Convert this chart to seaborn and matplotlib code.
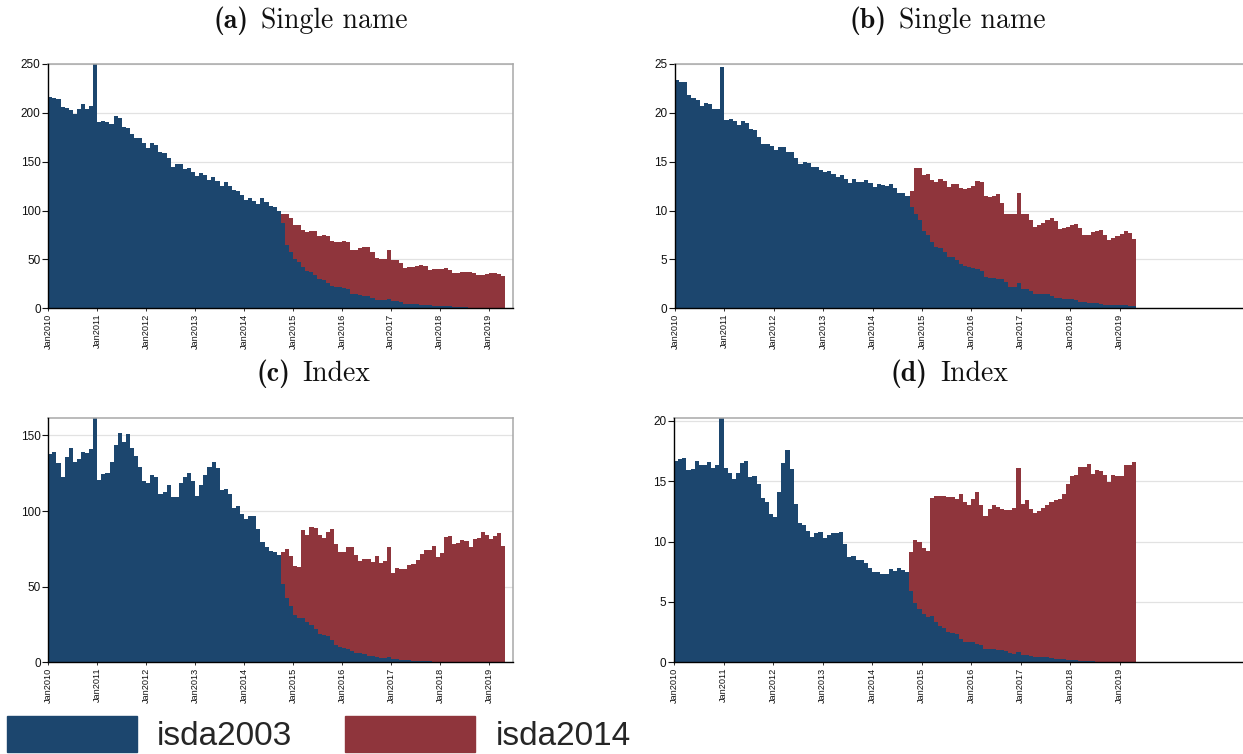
import numpy as np
import pandas as pd
import matplotlib
matplotlib.use("Agg")
import matplotlib.pyplot as plt
from matplotlib.patches import Patch
import seaborn as sns

# ---------------- data (monthly, Jan2010 .. Apr2019) ----------------
start_year = 2010
n_months = 112
tick_years = list(range(2010, 2020))
tick_labels = [f"Jan{y}" for y in tick_years]
series_names = ["isda2003", "isda2014"]
panel_letters = ["(a)", "(b)", "(c)", "(d)"]
panel_names = ["Single name", "Single name", "Index", "Index"]

# (a) Single name
a_isda2003 = [216, 215, 214, 206, 205, 203, 199, 204, 209, 204, 207, 252,
              191, 192, 191, 189, 197, 195, 186, 185, 178, 174, 174, 169,
              164, 169, 167, 160, 159, 154, 145, 148, 148, 143, 144, 139,
              135, 138, 136, 131, 134, 130, 125, 129, 125, 121, 120, 116,
              111, 113, 110, 107, 113, 109, 105, 104, 100, 87, 65, 58,
              50, 47, 42, 38, 37, 34, 30, 29, 26, 23, 22, 21.5,
              21, 19.5, 15, 15, 14, 13, 12.5, 11, 8.5, 8, 8, 9.5,
              7.5, 7, 6, 4.5, 4.5, 4, 4, 3.5, 3.5, 3, 2.5, 2.5,
              2.3, 2.2, 2, 1.5, 1.2, 1, 1, 0.8, 0.7, 0.6, 0.5, 0.5,
              0.4, 0.4, 0.3, 0.3]
a_isda2014 = [0] * 57 + [
    9, 31, 34, 35, 38, 38, 40, 42, 45, 44, 46, 48, 46, 46, 46.5, 48, 48.5,
    45, 45, 48, 50, 50.5, 47, 42.5, 42, 42, 50.5, 41.5, 42, 40, 36.5, 37.5,
    38, 39, 40.5, 39.5, 36, 37.5, 37.5, 37.7, 38.8, 37, 34.5, 34.8, 36, 36,
    36.2, 35.3, 33.4, 33.5, 34.5, 35.6, 35.6, 34.7, 32.7]

# (b) Single name
b_isda2003 = [23.4, 23.2, 23.2, 21.8, 21.5, 21.3, 20.7, 21.0, 20.9, 20.4, 20.4, 24.7,
              19.3, 19.4, 19.2, 18.8, 19.2, 19.0, 18.3, 18.2, 17.5, 16.8, 16.8, 16.6,
              16.2, 16.5, 16.5, 16.0, 16.0, 15.4, 14.8, 15.0, 14.9, 14.5, 14.5, 14.2,
              13.9, 14.1, 13.7, 13.4, 13.6, 13.2, 12.8, 13.2, 12.9, 12.9, 13.1, 12.8,
              12.4, 12.7, 12.65, 12.5, 12.7, 12.3, 11.8, 11.8, 11.5, 10.4, 9.7, 9.0,
              7.9, 7.5, 6.8, 6.3, 6.2, 5.8, 5.25, 5.2, 4.9, 4.5, 4.3, 4.2,
              4.1, 4.0, 3.8, 3.2, 3.1, 3.1, 3.0, 3.0, 2.7, 2.2, 2.2, 2.6,
              2.0, 2.0, 1.75, 1.5, 1.5, 1.5, 1.5, 1.3, 1.1, 1.05, 1.0, 1.0,
              1.0, 0.8, 0.6, 0.6, 0.55, 0.55, 0.5, 0.4, 0.35, 0.35, 0.35, 0.35,
              0.35, 0.3, 0.25, 0.2]
b_isda2014 = [0] * 57 + [
    1.6, 4.7, 5.4, 5.7, 6.2, 6.3, 6.6, 7.0, 7.2, 7.15, 7.5, 7.8, 7.8, 7.9,
    8.1, 8.4, 9.0, 9.1, 8.3, 8.3, 8.4, 8.7, 7.8, 7.0, 7.4, 7.4, 9.2, 7.6,
    7.6, 7.25, 6.8, 7.0, 7.2, 7.5, 7.9, 7.8, 7.05, 7.2, 7.3, 7.5, 7.8, 7.6,
    6.9, 6.95, 7.25, 7.4, 7.6, 7.15, 6.65, 6.85, 7.05, 7.25, 7.6, 7.45, 6.9]

# (c) Index
c_isda2003 = [137.4, 138.8, 131.5, 122.7, 135.5, 141.4, 132.6, 134.1, 138.8, 138.6, 140.7, 165,
              120.5, 124.4, 125.3, 132.4, 143.6, 151.3, 145.4, 151.1, 141.4, 136.3, 128.9, 119.8,
              118.7, 123.6, 122.2, 111, 112.6, 117, 109.3, 109.3, 118.7, 122.2, 124.9, 119.6,
              109.9, 117.4, 123.6, 128.9, 132.4, 128.4, 113.9, 114.3, 111.2, 101.8, 103.3, 98.2,
              94.5, 96.9, 96.9, 88.1, 79.3, 76.2, 73.8, 72.9, 70.9, 51.8, 42.5, 37,
              31.3, 29.3, 29.3, 26.4, 24.7, 22.2, 18.7, 18.1, 17.4, 14.8, 11.2, 10.1,
              9.5, 9, 7.7, 6.2, 5.9, 5.5, 4.4, 4.2, 3.5, 3.1, 3.1, 3.3,
              2.4, 2.2, 1.8, 1.3, 1.3, 1.1, 1.1, 0.9, 0.7, 0.7, 0.5, 0.4,
              0.4, 0.4, 0.3, 0.3, 0.3, 0.2, 0.2, 0.2, 0.2, 0.1, 0.1, 0.1,
              0.1, 0.1, 0.1, 0.1]
c_isda2014 = [0] * 57 + [
    20.9, 32.4, 33, 32.4, 33.9, 58.1, 58, 64.7, 66.8, 65.4, 64.1, 68.9, 73.3,
    66.8, 63, 63.6, 67.4, 68.5, 64.5, 60.8, 63, 64.1, 62.1, 66.8, 62.8, 63.6,
    72.9, 56.9, 60.4, 59.7, 60.2, 63, 64.1, 66.5, 70.5, 73.3, 73.3, 76.4, 69,
    71.8, 82.2, 83, 77.9, 78.8, 80.4, 79.8, 76.2, 81.5, 81.8, 86, 83.8, 81.6,
    83.4, 85.4, 76.8]

# (d) Index
d_isda2003 = [16.7, 16.8, 16.9, 15.9, 16.0, 16.7, 16.3, 16.3, 16.6, 16.1, 16.3, 20.6,
              16.05, 15.7, 15.2, 15.7, 16.5, 16.7, 15.3, 15.4, 14.8, 13.6, 13.3, 12.3,
              12.0, 14.1, 16.5, 17.6, 16.0, 13.1, 11.5, 11.4, 10.9, 10.4, 10.7, 10.8,
              10.3, 10.5, 10.7, 10.7, 10.75, 9.8, 8.7, 8.8, 8.5, 8.5, 8.2, 7.8,
              7.5, 7.5, 7.3, 7.3, 7.7, 7.55, 7.8, 7.6, 7.5, 5.9, 4.9, 4.4,
              4.0, 3.75, 3.8, 3.3, 3.0, 2.85, 2.5, 2.4, 2.35, 1.95, 1.7, 1.7,
              1.65, 1.55, 1.4, 1.1, 1.1, 1.1, 1.05, 1.0, 0.95, 0.8, 0.7, 0.85,
              0.6, 0.6, 0.55, 0.4, 0.4, 0.4, 0.4, 0.35, 0.3, 0.3, 0.25, 0.2,
              0.2, 0.15, 0.12, 0.12, 0.1, 0.08, 0.06, 0.05, 0.05, 0.04, 0.04, 0.03,
              0.03, 0.03, 0.02, 0.02]
d_isda2014 = [0] * 57 + [
    3.2, 5.2, 5.6, 5.5, 5.45, 9.8, 10.45, 10.75, 10.9, 11.2, 11.3, 11.15, 11.95,
    11.6, 11.3, 11.9, 12.55, 11.6, 11.0, 11.6, 11.9, 11.8, 11.7, 11.65, 11.8,
    12.05, 15.25, 12.5, 12.85, 12.15, 12.0, 12.1, 12.4, 12.6, 12.95, 13.1, 13.2,
    13.65, 14.6, 15.2, 15.35, 16.08, 16.08, 16.3, 15.52, 15.84, 15.8, 15.45,
    14.86, 15.46, 15.42, 15.37, 16.32, 16.28, 16.53]

panels_2003 = [a_isda2003, b_isda2003, c_isda2003, d_isda2003]
panels_2014 = [a_isda2014, b_isda2014, c_isda2014, d_isda2014]
y_max = [250, 25, 161.3, 20.2]
y_step = [50, 5, 50, 5]

# ---------------- style ----------------
sns.set_theme(style="white")
plt.rcParams["font.family"] = ["Liberation Sans", "DejaVu Sans"]

navy = "#1c466e"
maroon = "#8f353c"

W, H = 1243, 754
fig = plt.figure(figsize=(W / 100, H / 100), dpi=100)


def frac(l, t, r, b):
    return [l / W, 1 - b / H, (r - l) / W, (b - t) / H]


axes_px = [(48.3, 64, 513, 308.3), (675, 64, 1262, 308.3),
           (48.3, 418.3, 513, 662.3), (674, 418.3, 1262, 662.3)]
month_px = [4.078, 4.116, 4.08, 4.125]
# (right edge of letter label, left edge of name, vertical centre) in pixels
title_pos = [(249, 261, 21), (887, 899, 21), (290, 302, 374), (927, 940, 374)]

month_idx = np.arange(n_months)

for k in range(4):
    l, t, r, b = axes_px[k]
    ax = fig.add_axes(frac(l, t, r, b))
    df = pd.DataFrame({
        "month": month_idx + 0.5,
        "isda2003": panels_2003[k],
        "isda2014": panels_2014[k],
    })
    df["total"] = df["isda2003"] + df["isda2014"]
    sns.barplot(data=df, x="month", y="total", native_scale=True, width=1.0,
                color=maroon, saturation=1, errorbar=None, ax=ax,
                linewidth=0, antialiased=False)
    sns.barplot(data=df, x="month", y="isda2003", native_scale=True, width=1.0,
                color=navy, saturation=1, errorbar=None, ax=ax,
                linewidth=0, antialiased=False)

    ax.set_xlim(0, (r - l) / month_px[k])
    ax.set_ylim(0, y_max[k])
    ax.set_xticks([12 * (y - start_year) for y in tick_years])
    ax.set_xticklabels(tick_labels, rotation=90, fontsize=6.6)
    yt = np.arange(0, y_max[k] + 0.01, y_step[k])
    ax.set_yticks(yt)
    ax.set_yticklabels([f"{v:g}" for v in yt], fontsize=8.5)
    ax.set_xlabel("")
    ax.set_ylabel("")
    ax.tick_params(axis="y", direction="out", length=4, width=0.8, pad=1.5,
                   colors="#111111", left=True)
    ax.tick_params(axis="x", direction="out", length=2.5, width=0.6, pad=1.5,
                   colors="#111111", bottom=True)
    ax.yaxis.grid(True, color="#e2e2e2", linewidth=0.9)
    ax.xaxis.grid(False)
    ax.set_axisbelow(True)
    for s in ["left", "bottom"]:
        ax.spines[s].set_color("#000000")
        ax.spines[s].set_linewidth(1.0)
    for s in ["top", "right"]:
        ax.spines[s].set_color("#a8a8a8")
        ax.spines[s].set_linewidth(1.1)
    ax.spines["left"].set_zorder(5)
    ax.spines["bottom"].set_zorder(5)

    xr, xl, ty = title_pos[k]
    fig.text(xr / W, 1 - ty / H, panel_letters[k], family="cmb10",
             ha="right", va="center", fontsize=20, color="#111111")
    fig.text(xl / W, 1 - ty / H, panel_names[k], family="cmr10",
             ha="left", va="center", fontsize=20, color="#111111")

handles = [Patch(facecolor=navy, edgecolor=navy),
           Patch(facecolor=maroon, edgecolor=maroon)]
fig.legend(handles, series_names, loc="lower left",
           bbox_to_anchor=(0.0, -0.006), ncol=2, frameon=False,
           fontsize=24, handlelength=3.9, handleheight=1.3,
           handletextpad=0.6, columnspacing=1.6, borderaxespad=0.0,
           borderpad=0.2)

fig.savefig("out.png", dpi=100)
